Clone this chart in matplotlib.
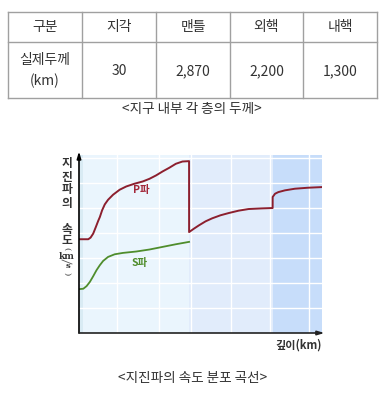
import matplotlib
matplotlib.use("Agg")
import matplotlib.pyplot as plt
from matplotlib.patches import Rectangle

plt.rcParams['font.family'] = ['Noto Sans CJK KR', 'DejaVu Sans']

# ---- table data ----
headers = ["구분", "지각", "맨틀", "외핵", "내핵"]
row_label = "실제두께"
row_unit = "(km)"
thickness = ["30", "2,870", "2,200", "1,300"]
table_caption = "<지구 내부 각 층의 두께>"

# ---- chart data (depth km, velocity km/s) ----
p_depth = [0, 244, 305, 374, 444, 505, 549, 609, 679, 766, 897, 1071, 1245,
           1463, 1680, 1855, 2029, 2203, 2377, 2551, 2725, 2899,
           2900, 3030, 3160, 3335, 3509, 3726, 3944, 4205, 4467, 4815, 5100,
           5101, 5163, 5250, 5424, 5686, 6034, 6400]
p_vel = [7.48, 7.48, 7.61, 7.93, 8.46, 8.94, 9.25, 9.79, 10.26, 10.63, 11.03,
         11.43, 11.69, 11.91, 12.09, 12.30, 12.57, 12.89, 13.18, 13.50, 13.68,
         13.71,
         8.05, 8.33, 8.59, 8.91, 9.15, 9.39, 9.57, 9.76, 9.89, 9.94, 9.97,
         10.85, 11.11, 11.24, 11.38, 11.51, 11.59, 11.64]
s_depth = [0, 113, 200, 287, 374, 461, 549, 636, 766, 940, 1158, 1506, 1855,
           2203, 2551, 2899]
s_vel = [3.5, 3.53, 3.74, 4.08, 4.53, 5.01, 5.41, 5.75, 6.07, 6.28, 6.39,
         6.50, 6.66, 6.87, 7.08, 7.27]
layer_bounds = [0, 100, 2900, 5100, 6400]
layer_colors = ["#d9ebf4", "#eaf5fd", "#e1ecfb", "#c7ddfa"]
chart_caption = "<지진파의 속도 분포 곡선>"

W, H = 385, 395
fig = plt.figure(figsize=(W / 100, H / 100), dpi=100)
fig.patch.set_facecolor("white")

# overlay axes in pixel coordinates for table and captions
ov = fig.add_axes([0, 0, 1, 1])
ov.set_xlim(0, W)
ov.set_ylim(H, 0)
ov.axis("off")

cols = [8, 82, 156, 230, 303, 377]
rows = [12, 42, 98]
lc = "#a0a0a0"
for x in cols:
    ov.plot([x, x], [rows[0], rows[-1]], color=lc, lw=1)
for y in rows:
    ov.plot([cols[0], cols[-1]], [y, y], color=lc, lw=1)

tc = "#333333"
for i, h in enumerate(headers):
    ov.text((cols[i] + cols[i + 1]) / 2, 27, h, ha="center", va="center",
            fontsize=10, color=tc)
ov.text((cols[0] + cols[1]) / 2, 60, row_label, ha="center", va="center",
        fontsize=10, color=tc)
ov.text((cols[0] + cols[1]) / 2, 81, row_unit, ha="center", va="center",
        fontsize=10, color=tc)
for i, t in enumerate(thickness):
    ov.text((cols[i + 1] + cols[i + 2]) / 2, 71, t, ha="center", va="center",
            fontsize=10, color=tc)
ov.text(192, 109, table_caption, ha="center", va="center", fontsize=9.8, color=tc)
ov.text(193, 378, chart_caption, ha="center", va="center", fontsize=9.8, color=tc)

# y label (vertical stacked)
lab = [("지", 164, 8.5), ("진", 177, 8.5), ("파", 190, 8.5), ("의", 203, 8.5),
       ("속", 229, 8.5), ("도", 241, 8.5)]
for ch, y, fs in lab:
    ov.text(67, y, ch, ha="center", va="center", fontsize=fs, color="#333333",
            fontweight="bold")
ov.text(67, 249, "(", ha="center", va="center", fontsize=6, rotation=-90,
        color="#333333", family="DejaVu Serif")
ov.text(67, 256.5, "km", ha="center", va="center", fontsize=6.5,
        color="#333333", fontweight="bold", family="DejaVu Serif")
ov.text(68, 266, "s", ha="center", va="center", fontsize=6,
        color="#333333", fontweight="bold", family="DejaVu Serif")
ov.text(67, 274, ")", ha="center", va="center", fontsize=6, rotation=-90,
        color="#333333", family="DejaVu Serif")
ov.plot([62, 72], [260, 264], color="#555555", lw=0.6)

ov.text(299, 345, "깊이(km)", ha="center", va="center", fontsize=8,
        color="#333333", fontweight="bold")

# chart axes
ax = fig.add_axes([79 / W, 1 - 333 / H, (322 - 79) / W, (333 - 155) / H])
ax.set_zorder(2)
ax.set_xlim(0, 6400)
ax.set_ylim(0, 14.2)
for i in range(len(layer_colors)):
    ax.add_patch(Rectangle((layer_bounds[i], 0),
                           layer_bounds[i + 1] - layer_bounds[i], 14.2,
                           facecolor=layer_colors[i], edgecolor="none", zorder=0))
for gy in [2, 4, 6, 8, 10, 12, 14]:
    ax.axhline(gy, color="white", lw=1, zorder=1)
for gx in [1000, 2100, 2950, 4000, 5020, 6050]:
    ax.axvline(gx, color="white", lw=1, zorder=1)

ax.plot(p_depth, p_vel, color="#8c1f2e", lw=1.4, zorder=3)
ax.plot(s_depth, s_vel, color="#4f8d2c", lw=1.3, zorder=3)
ax.text(1650, 11.4, "P파", color="#a3283a", fontsize=7.5, fontweight="bold",
        ha="center", va="center")
ax.text(1600, 5.6, "S파", color="#4f8d2c", fontsize=7.5, fontweight="bold",
        ha="center", va="center")

for s in ax.spines.values():
    s.set_visible(False)
ax.set_xticks([])
ax.set_yticks([])
ax.annotate("", xy=(0, 1.02), xytext=(0, 0), xycoords="axes fraction",
            arrowprops=dict(arrowstyle="-|>,head_length=0.4,head_width=0.12",
                            color="black", lw=1.2, shrinkA=0, shrinkB=0),
            annotation_clip=False)
ax.annotate("", xy=(1.01, 0), xytext=(0, 0), xycoords="axes fraction",
            arrowprops=dict(arrowstyle="-|>,head_length=0.4,head_width=0.12",
                            color="#222222", lw=1.2, shrinkA=0, shrinkB=0),
            annotation_clip=False)

fig.savefig("out.png", dpi=100, facecolor="white")
